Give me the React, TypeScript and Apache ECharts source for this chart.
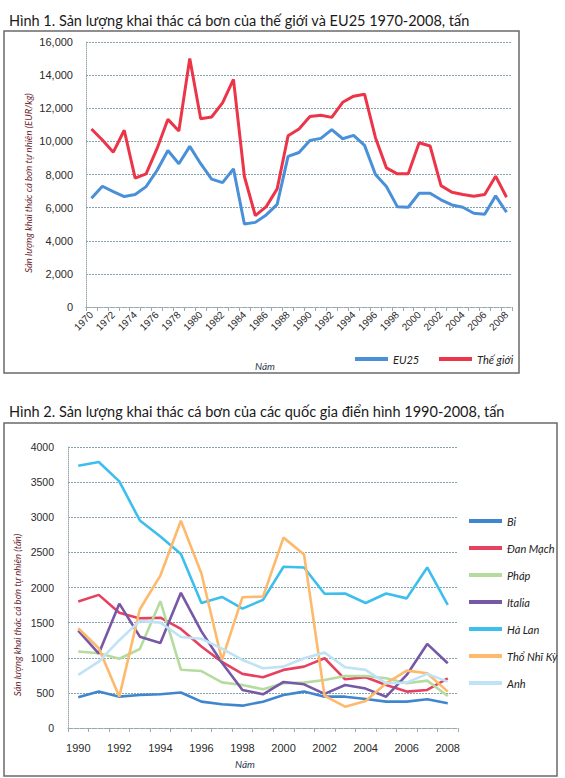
import React, { useEffect, useRef } from "react";
import * as echarts from "echarts";

const title1 = "Hình 1. Sản lượng khai thác cá bơn của thế giới và EU25 1970-2008, tấn";
const title2 = "Hình 2. Sản lượng khai thác cá bơn của các quốc gia điển hình 1990-2008, tấn";

const years1 = [
  "1970", "1971", "1972", "1973", "1974", "1975", "1976", "1977", "1978", "1979",
  "1980", "1981", "1982", "1983", "1984", "1985", "1986", "1987", "1988", "1989",
  "1990", "1991", "1992", "1993", "1994", "1995", "1996", "1997", "1998", "1999",
  "2000", "2001", "2002", "2003", "2004", "2005", "2006", "2007", "2008",
];
const eu25 = [
  6570, 7290, 6970, 6670, 6790, 7270, 8240, 9450, 8650, 9700,
  8650, 7720, 7510, 8340, 5010, 5110, 5560, 6200, 9090, 9330,
  10060, 10180, 10710, 10160, 10360, 9760, 8000, 7270, 6060, 6020,
  6870, 6870, 6470, 6160, 6020, 5660, 5600, 6710, 5720,
];
const world = [
  10750, 10080, 9350, 10670, 7780, 8040, 9560, 11330, 10630, 15010,
  11370, 11470, 12320, 13740, 7880, 5520, 6060, 7130, 10340, 10750,
  11500, 11580, 11450, 12360, 12730, 12850, 10220, 8400, 8040, 8040,
  9920, 9720, 7330, 6930, 6790, 6690, 6790, 7900, 6630,
];

const years2 = [
  "1990", "1991", "1992", "1993", "1994", "1995", "1996", "1997", "1998", "1999",
  "2000", "2001", "2002", "2003", "2004", "2005", "2006", "2007", "2008",
];
const bi = [437, 518, 446, 470, 480, 505, 375, 337, 318, 375, 470, 518, 446, 446, 413, 375, 375, 409, 352];
const danMach = [1800, 1895, 1640, 1560, 1570, 1410, 1160, 940, 770, 722, 827, 874, 993, 693, 722, 613, 518, 542, 708];
const phap = [1088, 1064, 986, 1125, 1805, 830, 811, 650, 613, 551, 636, 646, 684, 741, 741, 708, 636, 674, 456];
const italia = [1387, 1060, 1770, 1300, 1210, 1925, 1375, 930, 542, 480, 655, 622, 485, 613, 561, 446, 755, 1197, 921];
const haLan = [3733, 3786, 3510, 2955, 2726, 2476, 1780, 1866, 1700, 1824, 2295, 2285, 1910, 1915, 1780, 1915, 1845, 2285, 1753];
const thoNhiKy = [1420, 1135, 446, 1690, 2170, 2950, 2200, 970, 1862, 1871, 2710, 2470, 456, 304, 385, 636, 817, 779, 518];
const anh = [755, 945, 1250, 1525, 1500, 1295, 1270, 1130, 969, 850, 874, 993, 1073, 865, 827, 636, 646, 770, 660];

const countryNames = ["Bỉ", "Đan Mạch", "Pháp", "Italia", "Hà Lan", "Thổ Nhĩ Kỳ", "Anh"];
const countryData = [bi, danMach, phap, italia, haLan, thoNhiKy, anh];
const countryColors = ["#3f86cf", "#e6415f", "#b5dc9e", "#7658a6", "#3cbfee", "#fdb96c", "#bfe3f6"];

const gridColor = "#86a3ad";
const axisColor = "#9aaab0";
const labelColor = "#2a2a2a";

function fmtThousands(v: number) {
  return String(v).replace(/\B(?=(\d{3})+(?!\d))/g, ",");
}

export default function App() {
  const ref = useRef<HTMLDivElement>(null);
  useEffect(() => {
    document.body.style.margin = "0";
    const chart = echarts.init(ref.current!, null, { renderer: "svg" });
    const legendText = { fontStyle: "italic" as const, fontSize: 11, fontFamily: "Lato", color: "#222", lineHeight: 14 };
    chart.setOption({
      animation: false,
      backgroundColor: "#ffffff",
      title: [
        { text: title1, left: 4, top: 8, textStyle: { fontFamily: "Lato", fontSize: 14.5, fontWeight: "normal", color: "#1a1a1a" } },
        { text: title2, left: 4, top: 399, textStyle: { fontFamily: "Lato", fontSize: 14.5, fontWeight: "normal", color: "#1a1a1a" } },
      ],
      grid: [
        { left: 86, top: 42, width: 426, height: 265 },
        { left: 68, top: 447, width: 390, height: 281 },
      ],
      xAxis: [
        {
          type: "category", gridIndex: 0, data: years1, boundaryGap: true,
          axisLine: { lineStyle: { color: axisColor, type: "dotted" } },
          axisTick: { show: true, interval: 0, length: 4, lineStyle: { color: axisColor } },
          axisLabel: { interval: 1, rotate: 45, fontSize: 10, color: labelColor, fontFamily: "Liberation Sans", margin: 6 },
          splitLine: { show: false },
        },
        {
          type: "category", gridIndex: 1, data: years2, boundaryGap: true,
          axisLine: { lineStyle: { color: axisColor, type: "dotted" } },
          axisTick: { show: true, interval: 0, length: 4, lineStyle: { color: axisColor } },
          axisLabel: { interval: 1, fontSize: 11, color: labelColor, fontFamily: "Liberation Sans", margin: 14 },
          splitLine: { show: false },
        },
      ],
      yAxis: [
        {
          type: "value", gridIndex: 0, min: 0, max: 16000, interval: 2000,
          axisLine: { show: true, lineStyle: { color: axisColor, type: "dotted" } },
          axisTick: { show: false },
          axisLabel: { formatter: (v: number) => fmtThousands(v), fontSize: 11, color: labelColor, fontFamily: "Liberation Sans", margin: 13 },
          splitLine: { lineStyle: { color: gridColor, type: [2, 1], width: 1 } },
        },
        {
          type: "value", gridIndex: 1, min: 0, max: 4000, interval: 500,
          axisLine: { show: true, lineStyle: { color: axisColor, type: "dotted" } },
          axisTick: { show: false },
          axisLabel: { formatter: (v: number) => String(v), fontSize: 10.5, color: labelColor, fontFamily: "Liberation Sans", margin: 14 },
          splitLine: { lineStyle: { color: gridColor, type: [2, 1], width: 1 } },
        },
      ],
      legend: [
        { data: ["EU25"], left: 350, top: 347, itemWidth: 33, itemHeight: 4, icon: "rect", textStyle: legendText },
        { data: ["Thế giới"], left: 434, top: 347, itemWidth: 33, itemHeight: 4, icon: "rect", textStyle: legendText },
        {
          data: countryNames, orient: "vertical", left: 464, top: 509, itemWidth: 33, itemHeight: 4, itemGap: 13,
          icon: "rect", textStyle: legendText,
        },
      ],
      series: [
        { name: "EU25", type: "line", xAxisIndex: 0, yAxisIndex: 0, data: eu25, symbol: "none", color: "#4a90d8", lineStyle: { width: 3, color: "#4a90d8" } },
        { name: "Thế giới", type: "line", xAxisIndex: 0, yAxisIndex: 0, data: world, symbol: "none", color: "#ec3548", lineStyle: { width: 3, color: "#ec3548" } },
        ...countryNames.map((n, i) => ({
          name: n, type: "line", xAxisIndex: 1, yAxisIndex: 1, data: countryData[i], symbol: "none",
          color: countryColors[i], lineStyle: { width: 2.6, color: countryColors[i] },
        })),
      ],
      graphic: [
        { type: "rect", silent: true, shape: { x: 4, y: 31, width: 515, height: 342 }, style: { fill: "none", stroke: "#6a6a6a", lineWidth: 1.5 } },
        { type: "rect", silent: true, shape: { x: 4, y: 423, width: 553, height: 353 }, style: { fill: "none", stroke: "#6a6a6a", lineWidth: 1.5 } },
        {
          type: "text", x: 28, y: 183, rotation: Math.PI / 2,
          style: { text: "Sản lượng khai thác cá bơn tự nhiên (EUR/kg)", fontSize: 9.5, fontStyle: "italic", fontFamily: "Lato", fill: "#6d2b35", align: "center", verticalAlign: "middle" },
        },
        {
          type: "text", x: 17, y: 615, rotation: Math.PI / 2,
          style: { text: "Sản lượng khai thác cá bơn tự nhiên (tấn)", fontSize: 9.5, fontStyle: "italic", fontFamily: "Lato", fill: "#6d2b35", align: "center", verticalAlign: "middle" },
        },
        {
          type: "text", x: 265, y: 366,
          style: { text: "Năm", fontSize: 10, fontStyle: "italic", fontFamily: "Lato", fill: "#2e3a4f", align: "center", verticalAlign: "middle" },
        },
        {
          type: "text", x: 245, y: 764,
          style: { text: "Năm", fontSize: 10, fontStyle: "italic", fontFamily: "Lato", fill: "#2e3a4f", align: "center", verticalAlign: "middle" },
        },
      ],
    });
    return () => chart.dispose();
  }, []);
  return <div ref={ref} style={{ width: 565, height: 778 }} />;
}
